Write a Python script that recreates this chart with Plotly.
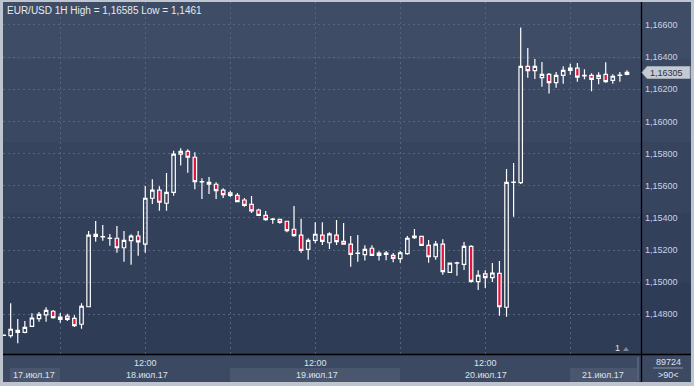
import plotly.graph_objects as go
import pandas as pd

# ---------------- data ----------------
times = pd.date_range("2017-07-17 16:00", periods=89, freq="h")

opens = [1.14668, 1.14667, 1.14700, 1.14688, 1.14725, 1.14773, 1.14797, 1.14819,
         1.14769, 1.14789, 1.14775, 1.14738, 1.14847, 1.15298, 1.15282, 1.15272,
         1.15273, 1.15214, 1.15258, 1.15287, 1.15236, 1.15522, 1.15572, 1.15491,
         1.15559, 1.15796, 1.15814, 1.15777, 1.15623, 1.15621, 1.15609, 1.15572,
         1.15555, 1.15540, 1.15511, 1.15484, 1.15449, 1.15416, 1.15390, 1.15391,
         1.15379, 1.15329, 1.15292, 1.15204, 1.15260, 1.15292, 1.15245, 1.15293,
         1.15254, 1.15236, 1.15179, 1.15171, 1.15211, 1.15167, 1.15173, 1.15167,
         1.15146, 1.15177, 1.15277, 1.15285, 1.15229, 1.15158, 1.15236, 1.15061,
         1.15118, 1.15111, 1.15223, 1.15003, 1.15051, 1.15028, 1.15055, 1.14844,
         1.15620, 1.15619, 1.16343, 1.16316, 1.16272, 1.16293, 1.16241, 1.16287,
         1.16318, 1.16331, 1.16284, 1.16287, 1.16268, 1.16293, 1.16256, 1.16286,
         1.16293]
highs = [1.14672, 1.14868, 1.14771, 1.14758, 1.14806, 1.14814, 1.14844, 1.14827,
         1.14808, 1.14804, 1.14794, 1.14868, 1.15318, 1.15381, 1.15356, 1.15300,
         1.15349, 1.15318, 1.15298, 1.15318, 1.15598, 1.15640, 1.15596, 1.15679,
         1.15818, 1.15833, 1.15827, 1.15808, 1.15646, 1.15654, 1.15621, 1.15584,
         1.15569, 1.15555, 1.15524, 1.15536, 1.15457, 1.15443, 1.15399, 1.15392,
         1.15380, 1.15474, 1.15395, 1.15273, 1.15372, 1.15372, 1.15310, 1.15387,
         1.15368, 1.15287, 1.15293, 1.15229, 1.15229, 1.15192, 1.15194, 1.15181,
         1.15194, 1.15287, 1.15331, 1.15286, 1.15262, 1.15256, 1.15267, 1.15120,
         1.15127, 1.15250, 1.15229, 1.15074, 1.15074, 1.15119, 1.15132, 1.15704,
         1.15741, 1.16585, 1.16457, 1.16388, 1.16370, 1.16301, 1.16308, 1.16343,
         1.16359, 1.16364, 1.16324, 1.16299, 1.16306, 1.16368, 1.16293, 1.16308,
         1.16318]
lows = [1.14666, 1.14654, 1.14620, 1.14682, 1.14723, 1.14754, 1.14754, 1.14773,
        1.14748, 1.14758, 1.14721, 1.14710, 1.14845, 1.15252, 1.15258, 1.15227,
        1.15183, 1.15127, 1.15109, 1.15165, 1.15183, 1.15486, 1.15445, 1.15445,
        1.15538, 1.15725, 1.15681, 1.15578, 1.15517, 1.15549, 1.15517, 1.15524,
        1.15530, 1.15499, 1.15469, 1.15430, 1.15412, 1.15382, 1.15364, 1.15364,
        1.15310, 1.15283, 1.15183, 1.15140, 1.15242, 1.15231, 1.15206, 1.15231,
        1.15234, 1.15096, 1.15127, 1.15134, 1.15165, 1.15134, 1.15136, 1.15124,
        1.15121, 1.15171, 1.15268, 1.15228, 1.15121, 1.15140, 1.15046, 1.15060,
        1.15040, 1.15076, 1.14997, 1.14951, 1.14964, 1.15001, 1.14791, 1.14785,
        1.15407, 1.15611, 1.16272, 1.16264, 1.16216, 1.16173, 1.16210, 1.16235,
        1.16291, 1.16247, 1.16262, 1.16187, 1.16231, 1.16241, 1.16235, 1.16247,
        1.16287]
closes = [1.14670, 1.14707, 1.14688, 1.14719, 1.14777, 1.14800, 1.14825, 1.14779,
          1.14783, 1.14769, 1.14729, 1.14850, 1.15292, 1.15285, 1.15284, 1.15274,
          1.15214, 1.15260, 1.15287, 1.15250, 1.15522, 1.15572, 1.15497, 1.15559,
          1.15796, 1.15814, 1.15777, 1.15625, 1.15625, 1.15609, 1.15569, 1.15544,
          1.15540, 1.15501, 1.15478, 1.15443, 1.15416, 1.15389, 1.15392, 1.15372,
          1.15320, 1.15289, 1.15198, 1.15260, 1.15298, 1.15254, 1.15300, 1.15252,
          1.15236, 1.15173, 1.15181, 1.15204, 1.15167, 1.15181, 1.15181, 1.15148,
          1.15183, 1.15273, 1.15287, 1.15229, 1.15158, 1.15237, 1.15065, 1.15119,
          1.15120, 1.15223, 1.15005, 1.15043, 1.15028, 1.15057, 1.14847, 1.15621,
          1.15622, 1.16343, 1.16316, 1.16343, 1.16293, 1.16241, 1.16287, 1.16318,
          1.16331, 1.16275, 1.16286, 1.16262, 1.16287, 1.16247, 1.16281, 1.16288,
          1.16305]

price_ticks = [1.148, 1.150, 1.152, 1.154, 1.156, 1.158, 1.160, 1.162, 1.164, 1.166]
price_tick_text = ["1,14800", "1,15000", "1,15200", "1,15400", "1,15600",
                   "1,15800", "1,16000", "1,16200", "1,16400", "1,16600"]
grid_times = ["2017-07-18 00:00", "2017-07-18 12:00", "2017-07-19 00:00",
              "2017-07-19 12:00", "2017-07-20 00:00", "2017-07-20 12:00",
              "2017-07-21 00:00"]
noon_times = ["2017-07-18 12:00", "2017-07-19 12:00", "2017-07-20 12:00"]
noon_label = "12:00"
day_label_times = ["2017-07-17 20:20", "2017-07-18 12:15", "2017-07-19 12:15",
                   "2017-07-20 12:05", "2017-07-21 04:40"]
day_labels = ["17.июл.17", "18.июл.17", "19.июл.17", "20.июл.17", "21.июл.17"]
title_text = "EUR/USD 1H High = 1,16585 Low = 1,1461"
last_price_text = "1,16305"
volume_text = "89724"
period_text = ">90<"
marker_text = "1"

# ---------------- geometry helpers (pixels -> paper) ----------------
W, H = 694, 386
L, R, T, B = 3, 641, 2, 354


def px(x):
    return (x - L) / (R - L)


def py(y):
    return (B - y) / (B - T)


FONT = "Liberation Sans"
FS = 9

fig = go.Figure()
fig.add_trace(go.Candlestick(
    x=times, open=opens, high=highs, low=lows, close=closes,
    increasing=dict(line=dict(color="#ffffff", width=1.2), fillcolor="rgba(0,0,0,0)"),
    decreasing=dict(line=dict(color="#ffffff", width=1.2), fillcolor="#e0143c"),
    whiskerwidth=0, hoverinfo="skip", showlegend=False,
))

shapes = []
# background bands (plot + right panel)
bands = [(T, 59, "#3f4c65"), (59, 142, "#3b4862"), (142, 213, "#37445e"),
         (213, 283, "#33405a"), (283, B, "#2f3c56")]
for y0, y1, c in bands:
    shapes.append(dict(type="rect", xref="paper", yref="paper", layer="below",
                       x0=px(L), x1=px(691), y0=py(y1), y1=py(y0),
                       fillcolor=c, line=dict(width=0)))
# date band
shapes.append(dict(type="rect", xref="paper", yref="paper", layer="below",
                   x0=px(L), x1=px(691), y0=py(382), y1=py(B),
                   fillcolor="#3c4962", line=dict(width=0)))
for x0, x1 in [(10, 60), (230, 400), (570, 637)]:
    shapes.append(dict(type="rect", xref="paper", yref="paper", layer="below",
                       x0=px(x0), x1=px(x1), y0=py(382), y1=py(368),
                       fillcolor="#4a566d", line=dict(width=0)))
# separators
shapes.append(dict(type="line", xref="paper", yref="paper", x0=px(638), x1=px(638),
                   y0=py(381), y1=py(357), line=dict(color="#6f7889", width=1)))
shapes.append(dict(type="line", xref="paper", yref="paper", x0=px(641.5), x1=px(641.5),
                   y0=py(382), y1=py(T), line=dict(color="#000000", width=1.3)))
shapes.append(dict(type="line", xref="paper", yref="paper", x0=px(L), x1=px(691),
                   y0=py(354.5), y1=py(354.5), line=dict(color="#000000", width=1.3)))
shapes.append(dict(type="line", xref="paper", yref="paper", x0=px(653), x1=px(683),
                   y0=py(368), y1=py(368), line=dict(color="#8c96a6", width=1)))
# last price tag
path = "M {} {} L {} {} L {} {} L {} {} L {} {} Z".format(
    px(642), py(72.5), px(647), py(66.5), px(690), py(66.5), px(690), py(78.5), px(647), py(78.5))
shapes.append(dict(type="path", xref="paper", yref="paper", path=path,
                   fillcolor="#c4cad3", line=dict(color="#a0a8b4", width=1)))
# small marker triangle
tri = "M {} {} L {} {} L {} {} Z".format(px(623), py(351), px(629), py(351), px(626), py(347))
shapes.append(dict(type="path", xref="paper", yref="paper", path=tri,
                   fillcolor="#7d8798", line=dict(width=0)))

annotations = []
annotations.append(dict(text=title_text, xref="paper", yref="paper", x=px(5), y=py(10.5),
                        xanchor="left", yanchor="middle", showarrow=False,
                        font=dict(family=FONT, size=10, color="#e6eaf0")))
for t in noon_times:
    annotations.append(dict(text=noon_label, xref="x", yref="paper", x=t, y=py(362.5),
                            xanchor="center", yanchor="middle", showarrow=False,
                            font=dict(family=FONT, size=FS, color="#dde2ea")))
for t, s in zip(day_label_times, day_labels):
    annotations.append(dict(text=s, xref="x", yref="paper", x=t, y=py(374.5),
                            xanchor="center", yanchor="middle", showarrow=False,
                            font=dict(family=FONT, size=FS, color="#dde2ea")))
annotations.append(dict(text=last_price_text, xref="paper", yref="paper", x=px(648), y=py(72.5),
                        xanchor="left", yanchor="middle", showarrow=False,
                        font=dict(family=FONT, size=FS, color="#26304a")))
annotations.append(dict(text=volume_text, xref="paper", yref="paper", x=px(668), y=py(362),
                        xanchor="center", yanchor="middle", showarrow=False,
                        font=dict(family=FONT, size=FS, color="#dde2ea")))
annotations.append(dict(text=period_text, xref="paper", yref="paper", x=px(668), y=py(375),
                        xanchor="center", yanchor="middle", showarrow=False,
                        font=dict(family=FONT, size=FS, color="#dde2ea")))
annotations.append(dict(text=marker_text, xref="paper", yref="paper", x=px(617), y=py(348),
                        xanchor="center", yanchor="middle", showarrow=False,
                        font=dict(family=FONT, size=FS, color="#dde2ea")))

grid_style = dict(showgrid=True, gridcolor="#566480", gridwidth=1, griddash="2px,3px",
                  zeroline=False)

fig.update_layout(
    width=W, height=H,
    margin=dict(l=L, r=W - R, t=T, b=H - B, pad=0),
    paper_bgcolor="#bec5cf",
    plot_bgcolor="rgba(0,0,0,0)",
    separators=", ",
    showlegend=False,
    shapes=shapes,
    annotations=annotations,
    hovermode=False,
    xaxis=dict(type="date", range=["2017-07-17 15:55", "2017-07-21 09:59"],
               tickmode="array", tickvals=grid_times, showticklabels=False,
               rangeslider=dict(visible=False), showline=False, ticks="",
               fixedrange=True, **grid_style),
    yaxis=dict(side="right", range=[1.14553, 1.16743], tickmode="array",
               tickvals=price_ticks, ticktext=price_tick_text, ticks="",
               ticklabelstandoff=3, showline=False, fixedrange=True,
               tickfont=dict(family=FONT, size=FS, color="#c9d3e6"), **grid_style),
)

fig.write_html("out.html")
